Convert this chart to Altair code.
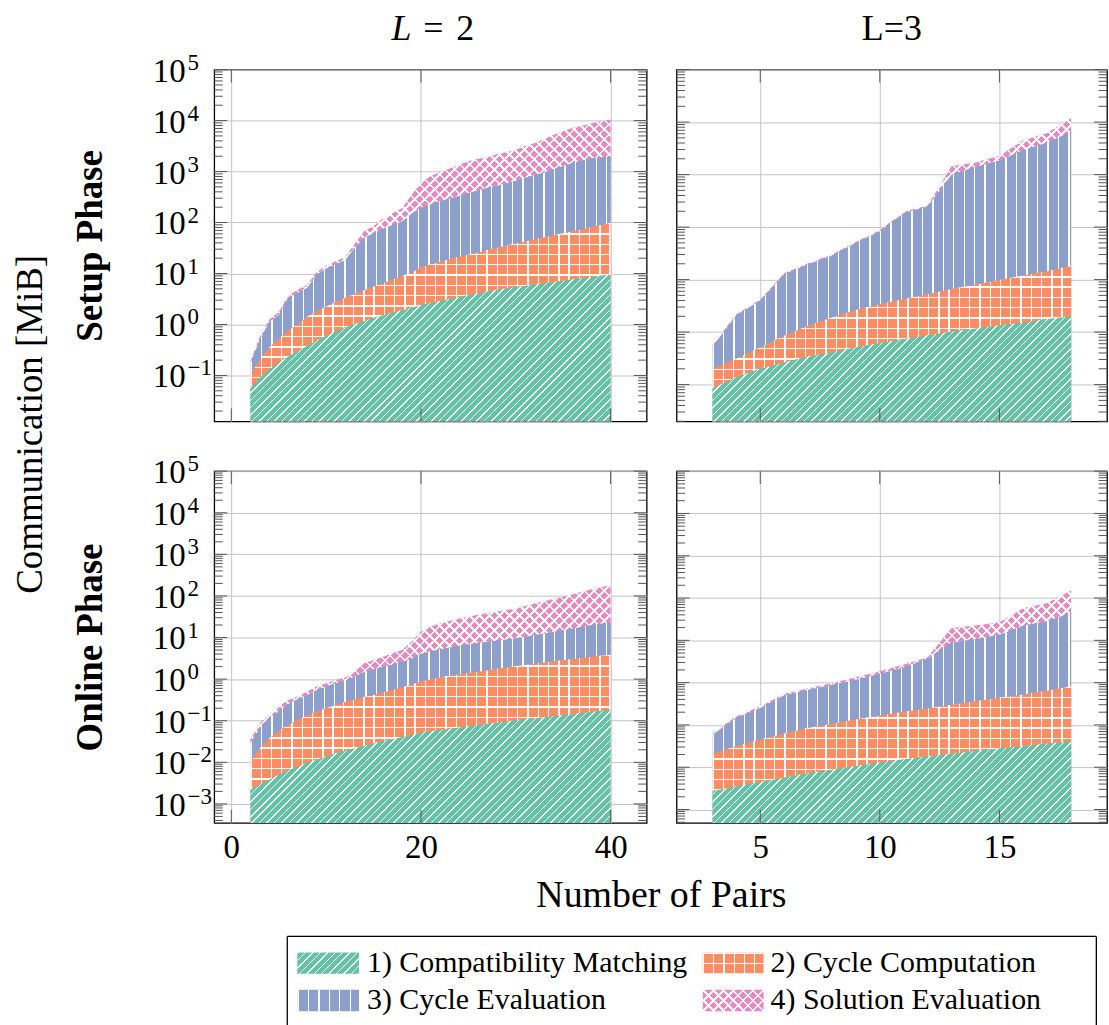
import math
import altair as alt
import pandas as pd

# ---------------- data ----------------
SERIES = ["1) Compatibility Matching", "2) Cycle Computation",
          "3) Cycle Evaluation", "4) Solution Evaluation"]
COLORS = ["#66c2a5", "#fc8d62", "#8da0cb", "#e78ac3"]

PAIRS_L2 = list(range(2, 41))
PAIRS_L3 = list(range(3, 19))

# log10 of the upper edge of each stacked band, in MiB
SETUP_L2_TOP1 = [-1.25, -1.05, -0.88, -0.74, -0.63, -0.52, -0.42, -0.31, -0.22, -0.14,
                 -0.06, 0.01, 0.07, 0.13, 0.18, 0.24, 0.28, 0.33, 0.38, 0.42,
                 0.46, 0.50, 0.54, 0.58, 0.61, 0.65, 0.68, 0.71, 0.73, 0.76,
                 0.79, 0.81, 0.84, 0.86, 0.89, 0.91, 0.93, 0.96, 0.98]
SETUP_L2_TOP2 = [-1.00, -0.68, -0.45, -0.28, -0.12, 0.00, 0.15, 0.26, 0.35, 0.44,
                 0.52, 0.60, 0.67, 0.74, 0.81, 0.88, 0.95, 1.02, 1.12, 1.18,
                 1.23, 1.28, 1.33, 1.37, 1.41, 1.46, 1.50, 1.55, 1.59, 1.63,
                 1.67, 1.71, 1.75, 1.79, 1.83, 1.87, 1.91, 1.95, 1.99]
SETUP_L2_TOP3 = [-0.77, -0.30, 0.05, 0.19, 0.52, 0.62, 0.72, 0.98, 1.10, 1.18,
                 1.26, 1.50, 1.70, 1.79, 1.88, 1.95, 2.02, 2.17, 2.29, 2.36,
                 2.42, 2.47, 2.52, 2.58, 2.63, 2.68, 2.72, 2.77, 2.82, 2.88,
                 2.93, 2.98, 3.05, 3.11, 3.17, 3.22, 3.26, 3.28, 3.30]
SETUP_L2_TOP4 = [-0.73, -0.24, 0.10, 0.24, 0.57, 0.68, 0.78, 1.03, 1.15, 1.24,
                 1.32, 1.58, 1.83, 1.93, 2.08, 2.18, 2.28, 2.54, 2.78, 2.91,
                 2.99, 3.06, 3.13, 3.20, 3.25, 3.28, 3.34, 3.38, 3.43, 3.50,
                 3.56, 3.64, 3.72, 3.79, 3.86, 3.90, 3.95, 3.99, 4.02]

SETUP_L3_TOP1 = [-1.07, -0.86, -0.70, -0.58, -0.46, -0.39, -0.29, -0.21,
                 -0.13, -0.06, 0.01, 0.07, 0.13, 0.18, 0.25, 0.30]
SETUP_L3_TOP2 = [-0.70, -0.51, -0.29, -0.07, 0.12, 0.28, 0.42, 0.53,
                 0.63, 0.72, 0.82, 0.90, 0.99, 1.08, 1.16, 1.26]
SETUP_L3_TOP3 = [-0.28, 0.32, 0.60, 1.10, 1.29, 1.46, 1.70, 1.92,
                 2.27, 2.39, 3.00, 3.15, 3.27, 3.47, 3.61, 3.82]
SETUP_L3_TOP4 = [-0.25, 0.34, 0.62, 1.12, 1.31, 1.48, 1.72, 1.94,
                 2.29, 2.41, 3.16, 3.23, 3.36, 3.65, 3.79, 4.08]

ONLINE_L2_TOP1 = [-2.66, -2.54, -2.42, -2.30, -2.19, -2.10, -2.01, -1.93, -1.86, -1.78,
                  -1.72, -1.66, -1.60, -1.54, -1.49, -1.44, -1.39, -1.34, -1.29, -1.25,
                  -1.22, -1.19, -1.16, -1.13, -1.10, -1.07, -1.05, -1.02, -0.99, -0.96,
                  -0.94, -0.91, -0.89, -0.86, -0.84, -0.81, -0.79, -0.76, -0.74]
ONLINE_L2_TOP2 = [-1.99, -1.66, -1.42, -1.24, -1.10, -0.98, -0.87, -0.78, -0.70, -0.62,
                  -0.55, -0.49, -0.43, -0.38, -0.32, -0.26, -0.20, -0.13, -0.06, 0.00,
                  0.04, 0.08, 0.11, 0.15, 0.18, 0.21, 0.25, 0.28, 0.31, 0.34,
                  0.37, 0.40, 0.43, 0.46, 0.48, 0.51, 0.54, 0.56, 0.58]
ONLINE_L2_TOP3 = [-1.54, -1.18, -0.91, -0.78, -0.60, -0.48, -0.39, -0.26, -0.18, -0.10,
                  -0.04, 0.06, 0.17, 0.24, 0.30, 0.35, 0.42, 0.49, 0.61, 0.67,
                  0.72, 0.76, 0.80, 0.84, 0.87, 0.90, 0.93, 0.95, 0.98, 1.02,
                  1.06, 1.10, 1.14, 1.18, 1.22, 1.26, 1.30, 1.34, 1.37]
ONLINE_L2_TOP4 = [-1.46, -1.06, -0.86, -0.66, -0.50, -0.42, -0.30, -0.18, -0.10, -0.02,
                  0.04, 0.18, 0.38, 0.46, 0.54, 0.62, 0.70, 0.90, 1.14, 1.26,
                  1.34, 1.40, 1.45, 1.50, 1.55, 1.59, 1.62, 1.66, 1.70, 1.76,
                  1.82, 1.87, 1.93, 1.98, 2.04, 2.10, 2.16, 2.21, 2.26]

ONLINE_L3_TOP1 = [-2.57, -2.45, -2.35, -2.24, -2.14, -2.06, -1.97, -1.89,
                  -1.81, -1.74, -1.68, -1.61, -1.55, -1.50, -1.44, -1.39]
ONLINE_L3_TOP2 = [-1.69, -1.50, -1.35, -1.20, -1.07, -0.97, -0.87, -0.78,
                  -0.69, -0.61, -0.52, -0.44, -0.36, -0.28, -0.19, -0.09]
ONLINE_L3_TOP3 = [-1.23, -0.83, -0.60, -0.30, -0.17, -0.05, 0.07, 0.21,
                  0.36, 0.57, 0.95, 1.03, 1.13, 1.35, 1.46, 1.65]
ONLINE_L3_TOP4 = [-1.19, -0.80, -0.56, -0.26, -0.13, -0.01, 0.13, 0.27,
                  0.43, 0.60, 1.29, 1.35, 1.43, 1.76, 1.88, 2.18]

X_TICKS_L2 = [0, 20, 40]
X_TICKS_L3 = [5, 10, 15]
Y_EXPONENTS = [-3, -2, -1, 0, 1, 2, 3, 4, 5]
Y_EXPONENT_TEXT = ["−3", "−2", "−1", "0", "1", "2", "3", "4", "5"]

# ---------------- styling / layout ----------------
FONT = "Liberation Serif"
W_LEFT, W_RIGHT, H = 434, 432, 353
GRID = "#c4c4c4"
TICK = "#555555"
TMAJ, TMIN = 13, 8.5
PL, PT = 11, 8
LEG_X0, LEG_T0 = 211.7, 930
LEG_W, LEG_H = 888, 95

# pattern spec per band: (direction, period px, line width px)
PATTERNS = [
    [("d1", 7.5, 1.5)],
    [("h", 10.3, 1.4), ("v", 10.3, 1.4)],
    [("v", 10.5, 1.4)],
    [("d1", 10.0, 2.6), ("d2", 10.0, 2.6)],
]


def stripes(kind, wb, hb, period, lw, origin=0.0):
    """White line pattern as a linear gradient in the mark's bounding box."""
    if kind == "v":
        span, g = wb, dict(x1=0, y1=0, x2=1, y2=0)
    elif kind == "h":
        span, g = hb, dict(x1=0, y1=0, x2=0, y2=1)
    else:
        r = hb / wb
        k = (1 + r) / (1 + r * r)
        span = wb + hb
        if kind == "d1":
            g = dict(x1=0, y1=0, x2=k, y2=k * r)
        else:
            g = dict(x1=0, y1=1, x2=k, y2=1 - k * r)
    clear, line = "rgba(255,255,255,0)", "#ffffff"
    stops = [{"offset": 0, "color": clear}]
    pos = (-origin) % period
    while pos < span:
        a, b = round(pos / span, 5), round(min(pos + lw, span) / span, 5)
        stops += [{"offset": a, "color": clear}, {"offset": a, "color": line},
                  {"offset": b, "color": line}, {"offset": b, "color": clear}]
        pos += period
    stops.append({"offset": 1, "color": clear})
    return dict(gradient="linear", stops=stops, **g)


def text_layer(text, x, y, size, align="center", baseline="alphabetic",
               weight="normal", style="normal", angle=0):
    return alt.Chart(pd.DataFrame({"s": [text]})).mark_text(
        align=align, baseline=baseline, font=FONT, fontSize=size, fontWeight=weight,
        fontStyle=style, angle=angle, color="black").encode(
        text="s:N", x=alt.value(x), y=alt.value(y))


def panel(pairs, tops, xdom, xticks, ylog, W, titles=(), ytitle=None,
          xlabels=False, ylabels=False, xtitle=None, seg=6):
    df = pd.DataFrame({"n": pairs})
    for k in range(4):
        df[f"t{k}"] = [10.0 ** v for v in tops[k]]
    xs = alt.Scale(domain=xdom, nice=False, zero=False)
    ys = alt.Scale(type="log", domain=[10.0 ** ylog[0], 10.0 ** ylog[1]], nice=False)
    decades = [10.0 ** e for e in Y_EXPONENTS if ylog[0] <= e <= ylog[1]]
    exp_text = [t for e, t in zip(Y_EXPONENTS, Y_EXPONENT_TEXT) if ylog[0] <= e <= ylog[1]]

    xkw = dict(values=xticks, grid=True, gridColor=GRID, gridWidth=1, ticks=False,
               tickSize=0, domain=False, labels=xlabels, labelFont=FONT,
               labelFontSize=33, labelPadding=9, labelFlush=False, labelColor="black")
    if xtitle:
        xkw.update(title=xtitle, titleX=448.3, titleY=73, titleBaseline="middle",
                   titleAlign="center", titleFont=FONT, titleFontSize=38,
                   titleFontWeight="normal", titleColor="black")
    else:
        xkw.update(title=None)
    ykw = dict(values=decades, grid=True, gridColor=GRID, gridWidth=1, ticks=False,
               tickSize=0, domain=False, labels=False)
    if ytitle:
        ykw.update(title=ytitle, titleX=-124, titleY=H / 2, titleAngle=270,
                   titleBaseline="middle", titleAlign="center", titleFont=FONT,
                   titleFontSize=37, titleFontWeight="bold", titleColor="black")
    else:
        ykw.update(title=None)
    xaxis = alt.Axis(**xkw)
    yaxis = alt.Axis(**ykw)

    def xpx(n):
        return (n - xdom[0]) / (xdom[1] - xdom[0]) * W

    def ypx(logv):
        return H * (ylog[1] - logv) / (ylog[1] - ylog[0])

    xe = alt.X("n:Q", scale=xs, axis=xaxis)
    layers = []
    npts = len(pairs)
    for k in (3, 2, 1, 0):
        ye = alt.Y(f"t{k}:Q", scale=ys, stack=None, axis=yaxis)
        layers.append(alt.Chart(df).mark_area(color=COLORS[k]).encode(
            x=xe, y=ye, y2=alt.value(H)))
        for kind, per, lw in PATTERNS[k]:
            if kind in ("v", "h"):
                wb = xpx(max(pairs)) - xpx(min(pairs))
                hb = H - ypx(max(tops[k]))
                layers.append(alt.Chart(df).mark_area(
                    fill=stripes(kind, wb, hb, per, lw)).encode(x=xe, y=ye, y2=alt.value(H)))
                continue
            # diagonal lines: split into short pieces, phase-aligned in panel pixels
            i0 = 0
            while i0 < npts - 1:
                i1 = min(i0 + seg, npts - 1)
                sub = df.iloc[i0:i1 + 1]
                xa, xb = xpx(pairs[i0]), xpx(pairs[i1])
                top = ypx(max(tops[k][i0:i1 + 1]))
                wb, hb = xb - xa, H - top
                origin = xa + top if kind == "d1" else xa - top - hb
                layers.append(alt.Chart(sub).mark_area(
                    fill=stripes(kind, wb, hb, per, lw, origin)).encode(
                    x=xe, y=ye, y2=alt.value(H)))
                i0 = i1

    # inside tick marks (pgfplots style)
    minors = [d * 10.0 ** e for e in range(-5, 6) for d in range(2, 10)
              if ylog[0] <= math.log10(d * 10.0 ** e) <= ylog[1]]
    for vals, ln in ((decades, TMAJ), (minors, TMIN)):
        tdf = pd.DataFrame({"v": vals})
        for x0, x1 in ((0, ln), (W - ln, W)):
            layers.append(alt.Chart(tdf).mark_rule(color=TICK, strokeWidth=1).encode(
                y=alt.Y("v:Q", scale=ys, axis=yaxis), x=alt.value(x0), x2=alt.value(x1)))
    xdf = pd.DataFrame({"v": xticks})
    for y0, y1 in ((0, TMAJ), (H - TMAJ, H)):
        layers.append(alt.Chart(xdf).mark_rule(color=TICK, strokeWidth=1).encode(
            x=alt.X("v:Q", scale=xs, axis=xaxis), y=alt.value(y0), y2=alt.value(y1)))

    # y tick labels as 10 with a raised exponent
    if ylabels:
        ldf = pd.DataFrame({"v": decades, "e": exp_text})
        layers.append(alt.Chart(ldf).mark_text(
            text="10", align="right", baseline="middle", dy=2, font=FONT, fontSize=33,
            color="black").encode(y=alt.Y("v:Q", scale=ys, axis=yaxis), x=alt.value(-28.7)))
        layers.append(alt.Chart(ldf).mark_text(
            align="left", baseline="middle", dy=-7, font=FONT, fontSize=23,
            color="black").encode(y=alt.Y("v:Q", scale=ys, axis=yaxis), x=alt.value(-26.7),
                                  text="e:N"))

    for t in titles:
        layers.append(t(W))

    return alt.layer(*layers).properties(width=W, height=H)


XDOM_L2 = [-1.8, 43.8]
XDOM_L3 = [1.5, 19.5]

TL_TITLES = [
    lambda W: text_layer("L", W / 2 - 19, -30, 36, align="right", style="italic"),
    lambda W: text_layer("=", W / 2 + 3, -30, 36),
    lambda W: text_layer("2", W / 2 + 35, -30, 36),
    lambda W: text_layer("Communication [MiB]", -183.7, 356, 37, baseline="middle", angle=270),
]
TR_TITLES = [lambda W: text_layer("L=3", W / 2, -30, 36)]

tl = panel(PAIRS_L2, [SETUP_L2_TOP1, SETUP_L2_TOP2, SETUP_L2_TOP3, SETUP_L2_TOP4],
           XDOM_L2, X_TICKS_L2, (-1.9, 5), W_LEFT, titles=TL_TITLES,
           ytitle="Setup Phase", ylabels=True, seg=6)
tr = panel(PAIRS_L3, [SETUP_L3_TOP1, SETUP_L3_TOP2, SETUP_L3_TOP3, SETUP_L3_TOP4],
           XDOM_L3, X_TICKS_L3, (-1.70, 5), W_RIGHT, titles=TR_TITLES, seg=3)
bl = panel(PAIRS_L2, [ONLINE_L2_TOP1, ONLINE_L2_TOP2, ONLINE_L2_TOP3, ONLINE_L2_TOP4],
           XDOM_L2, X_TICKS_L2, (-3.456, 5), W_LEFT, ytitle="Online Phase",
           ylabels=True, xlabels=True, xtitle="Number of Pairs", seg=6)
br = panel(PAIRS_L3, [ONLINE_L3_TOP1, ONLINE_L3_TOP2, ONLINE_L3_TOP3, ONLINE_L3_TOP4],
           XDOM_L3, X_TICKS_L3, (-3.316, 5), W_RIGHT, xlabels=True, seg=3)

grid = alt.concat(tl, tr, bl, br, columns=2, spacing={"row": 50, "column": 30},
                  bounds="flush")

# ---------------- custom legend with pattern swatches ----------------
lx = alt.Scale(domain=[LEG_X0, LEG_X0 + LEG_W], range=[0, LEG_W], nice=False, zero=False)
ly = alt.Scale(domain=[LEG_T0, LEG_T0 + LEG_H], range=[0, LEG_H], nice=False, zero=False)
SW_X = [(295, 357), (702, 763), (295, 357), (702, 763)]
SW_Y = [(952, 973.5), (952, 973.5), (989.5, 1011), (989.5, 1011)]
TX = [365, 770, 365, 770]

leg_layers = []
for k in range(4):
    sdf = pd.DataFrame({"x0": [SW_X[k][0]], "x1": [SW_X[k][1]],
                        "y0": [SW_Y[k][0]], "y1": [SW_Y[k][1]]})
    enc = dict(x=alt.X("x0:Q", scale=lx, axis=None), x2="x1",
               y=alt.Y("y0:Q", scale=ly, axis=None), y2="y1")
    leg_layers.append(alt.Chart(sdf).mark_rect(color=COLORS[k]).encode(**enc))
    wb, hb = SW_X[k][1] - SW_X[k][0], SW_Y[k][1] - SW_Y[k][0]
    for kind, per, lw in PATTERNS[k]:
        leg_layers.append(alt.Chart(sdf).mark_rect(fill=stripes(kind, wb, hb, per, lw)).encode(**enc))
tdf = pd.DataFrame({"label": SERIES, "tx": TX,
                    "ty": [(a + b) / 2 for a, b in SW_Y]})
leg_layers.append(alt.Chart(tdf).mark_text(align="left", baseline="middle", font=FONT,
                                           fontSize=30, color="black").encode(
    x=alt.X("tx:Q", scale=lx, axis=None), y=alt.Y("ty:Q", scale=ly, axis=None),
    text="label:N"))
# legend frame: top, left and right edges (bottom edge lies outside the picture)
edf = pd.DataFrame({"x0": [285, 285, 1097], "x1": [1097, 285, 1097],
                    "y0": [936, 936, 936], "y1": [936, 1025, 1025]})
leg_layers.append(alt.Chart(edf).mark_rule(color="black", strokeWidth=1.3).encode(
    x=alt.X("x0:Q", scale=lx, axis=None), x2="x1",
    y=alt.Y("y0:Q", scale=ly, axis=None), y2="y1"))
legend = alt.layer(*leg_layers).properties(width=LEG_W, height=LEG_H,
                                           view=alt.ViewBackground(strokeOpacity=0))

chart = alt.vconcat(grid, legend, spacing=15).properties(
    padding={"left": PL, "top": PT, "right": 0, "bottom": 0}
).configure_view(stroke="black", strokeWidth=1.3)

chart.save("out.html", embed_options={"renderer": "svg", "actions": False})
